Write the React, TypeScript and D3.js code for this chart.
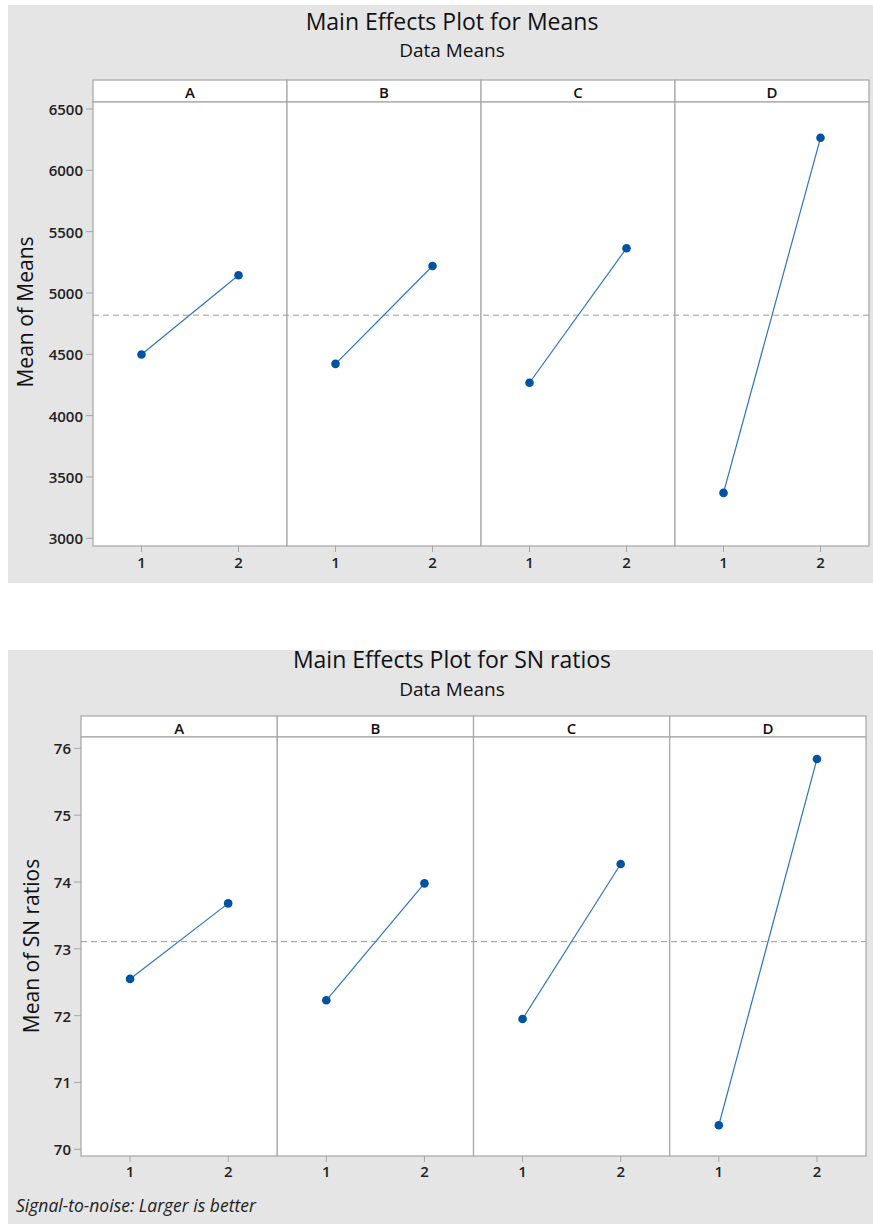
import React from "react";
import * as d3 from "d3";

const factors = ["A", "B", "C", "D"];
const levels = [1, 2];

const meansA = [4498, 5145];
const meansB = [4422, 5220];
const meansC = [4268, 5365];
const meansD = [3370, 6265];

const snA = [72.55, 73.68];
const snB = [72.23, 73.98];
const snC = [71.95, 74.27];
const snD = [70.36, 75.84];

const meanTicks = [3000, 3500, 4000, 4500, 5000, 5500, 6000, 6500];
const snTicks = [70, 71, 72, 73, 74, 75, 76];

const FONT = "'Open Sans', 'Noto Sans', sans-serif";
const BORDER = "#a6a6a6";

type Cfg = {
  title: string;
  subtitle: string;
  yLabel: string;
  series: number[][];
  ticks: number[];
  yDomain: [number, number];
  bg: { x: number; y: number; w: number; h: number };
  titleY: number;
  subY: number;
  stripTop: number;
  top: number;
  bottom: number;
  left: number;
  right: number;
  yLabelX: number;
  yLabelY: number;
  xLabelY: number;
  footnote?: string;
  footY?: number;
};

function Chart({ c }: { c: Cfg }) {
  const y = d3.scaleLinear().domain(c.yDomain).range([c.bottom, c.top]);
  const band = d3.scaleBand().domain(factors).range([c.left, c.right]).paddingInner(0).paddingOuter(0);
  const pw = band.bandwidth();
  const grand = d3.mean(c.series.flat()) as number;
  return (
    <g>
      <rect x={c.bg.x} y={c.bg.y} width={c.bg.w} height={c.bg.h} fill="#e5e5e5" />
      <text x={452} y={c.titleY} textAnchor="middle" fontFamily={FONT} fontWeight={500} fontSize={23} fill="#111">
        {c.title}
      </text>
      <text x={452} y={c.subY} textAnchor="middle" fontFamily={FONT} fontWeight={500} fontSize={19} fill="#111">
        {c.subtitle}
      </text>
      <text
        transform={`translate(${c.yLabelX},${c.yLabelY}) rotate(-90)`}
        textAnchor="middle"
        dominantBaseline="central"
        fontFamily={FONT}
        fontWeight={500}
        fontSize={21}
        fill="#111"
      >
        {c.yLabel}
      </text>
      {c.ticks.map((t) => (
        <g key={t}>
          <line x1={c.left - 7} x2={c.left} y1={y(t)} y2={y(t)} stroke={BORDER} />
          <text
            x={c.left - 10}
            y={y(t)}
            textAnchor="end"
            dominantBaseline="central"
            fontFamily={FONT}
            fontWeight={600}
            fontSize={15}
            fill="#222"
          >
            {t}
          </text>
        </g>
      ))}
      {factors.map((f) => {
        const x0 = band(f) as number;
        const x = d3.scaleLinear().domain([0.5, 2.5]).range([x0, x0 + pw]);
        return (
          <g key={f}>
            <rect x={x0} y={c.stripTop} width={pw} height={c.top - c.stripTop} fill="#fff" stroke={BORDER} strokeWidth={1.2} />
            <text
              x={x0 + pw / 2}
              y={(c.stripTop + c.top) / 2 + 1}
              textAnchor="middle"
              dominantBaseline="central"
              fontFamily={FONT}
              fontWeight={600}
              fontSize={15}
              fill="#111"
            >
              {f}
            </text>
            <rect x={x0} y={c.top} width={pw} height={c.bottom - c.top} fill="#fff" stroke={BORDER} strokeWidth={1.2} />
            {levels.map((l) => (
              <g key={l}>
                <line x1={x(l)} x2={x(l)} y1={c.bottom} y2={c.bottom + 6} stroke={BORDER} />
                <text
                  x={x(l)}
                  y={c.xLabelY}
                  textAnchor="middle"
                  fontFamily={FONT}
                  fontWeight={600}
                  fontSize={15}
                  fill="#222"
                >
                  {l}
                </text>
              </g>
            ))}
          </g>
        );
      })}
      <line
        x1={c.left}
        x2={c.right}
        y1={y(grand)}
        y2={y(grand)}
        stroke="#9a9a9a"
        strokeWidth={1}
        strokeDasharray="6,4"
      />
      {factors.map((f, i) => {
        const x0 = band(f) as number;
        const x = d3.scaleLinear().domain([0.5, 2.5]).range([x0, x0 + pw]);
        const vals = c.series[i];
        const line = d3
          .line<number>()
          .x((_, j) => x(levels[j]))
          .y((v) => y(v));
        return (
          <g key={"s" + f}>
            <path d={line(vals) as string} fill="none" stroke="#2f74c4" strokeWidth={1.2} />
            {vals.map((v, j) => (
              <circle key={j} cx={x(levels[j])} cy={y(v)} r={4.3} fill="#0052a3" />
            ))}
          </g>
        );
      })}
      {c.footnote && (
        <text x={16} y={c.footY} fontFamily={FONT} fontStyle="italic" fontSize={17.5} fill="#222">
          {c.footnote}
        </text>
      )}
    </g>
  );
}

const topCfg: Cfg = {
  title: "Main Effects Plot for Means",
  subtitle: "Data Means",
  yLabel: "Mean of Means",
  series: [meansA, meansB, meansC, meansD],
  ticks: meanTicks,
  yDomain: [2937, 6557],
  bg: { x: 8, y: 5, w: 865, h: 578 },
  titleY: 30,
  subY: 57,
  stripTop: 80,
  top: 102,
  bottom: 546,
  left: 93,
  right: 869,
  yLabelX: 25,
  yLabelY: 312,
  xLabelY: 568,
};

const botCfg: Cfg = {
  title: "Main Effects Plot for SN ratios",
  subtitle: "Data Means",
  yLabel: "Mean of SN ratios",
  series: [snA, snB, snC, snD],
  ticks: snTicks,
  yDomain: [69.9, 76.17],
  bg: { x: 8, y: 650, w: 865, h: 574 },
  titleY: 668,
  subY: 696,
  stripTop: 716,
  top: 737,
  bottom: 1156,
  left: 81,
  right: 866,
  yLabelX: 31,
  yLabelY: 946,
  xLabelY: 1177,
  footnote: "Signal-to-noise: Larger is better",
  footY: 1212,
};

export default function App() {
  return (
    <svg width={873} height={1226} style={{ position: "absolute", left: 0, top: 0, display: "block" }}>
      <rect width={873} height={1226} fill="#fff" />
      <Chart c={topCfg} />
      <Chart c={botCfg} />
    </svg>
  );
}
